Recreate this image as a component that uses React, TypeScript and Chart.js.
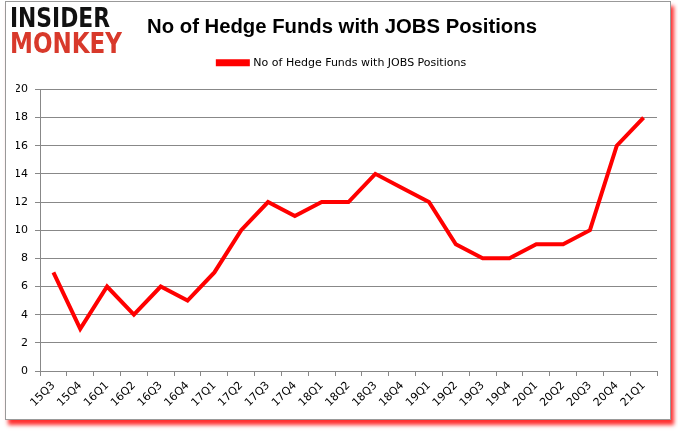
import React, { useEffect, useRef } from "react";
import { Chart, registerables } from "chart.js";
Chart.register(...registerables);

const categories = ["15Q3","15Q4","16Q1","16Q2","16Q3","16Q4","17Q1","17Q2","17Q3","17Q4","18Q1","18Q2","18Q3","18Q4","19Q1","19Q2","19Q3","19Q4","20Q1","20Q2","20Q3","20Q4","21Q1"];
const hedgeFunds = [7,3,6,4,6,5,7,10,12,11,12,12,14,13,12,9,8,8,9,9,10,16,18];
const seriesLabel = "No of Hedge Funds with JOBS Positions";
const titleText = "No of Hedge Funds with JOBS Positions";

export default function App() {
  const ref = useRef<HTMLCanvasElement>(null);
  useEffect(() => {
    document.body.style.margin = "0";
    const chart = new Chart(ref.current!, {
      type: "line",
      data: {
        labels: categories,
        datasets: [{
          label: seriesLabel,
          data: hedgeFunds,
          borderColor: "#ff0000",
          backgroundColor: "#ff0000",
          borderWidth: 4,
          pointRadius: 0,
          tension: 0,
          xAxisID: "x",
          yAxisID: "y",
        }],
      },
      options: {
        animation: false,
        responsive: false,
        layout: { padding: { left: 16, right: 10, top: 0, bottom: 10 } },
        plugins: {
          title: {
            display: true,
            text: titleText,
            color: "#000",
            font: { family: "Liberation Sans", size: 20.3, weight: "bold" },
            padding: { top: 15, bottom: 8 },
          },
          legend: {
            display: true,
            labels: {
              boxWidth: 30,
              boxHeight: 3,
              color: "#000",
              font: { family: "DejaVu Sans", size: 11 },
              padding: 10,
            },
          },
          tooltip: { enabled: false },
        },
        scales: {
          x: {
            offset: true,
            grid: { offset: true, drawOnChartArea: false, drawTicks: true, tickLength: 5, color: "#888" },
            border: { color: "#888" },
            ticks: { minRotation: 45, maxRotation: 45, color: "#000", font: { family: "DejaVu Sans", size: 11 }, autoSkip: false },
            afterFit: (s: any) => { s.height = 50; },
          },
          xTop: {
            type: "linear",
            position: "top",
            display: true,
            grid: { display: false },
            border: { display: false },
            ticks: { display: false },
            afterFit: (s: any) => { s.height = 11; },
          },
          y: {
            min: 0,
            max: 20,
            ticks: { stepSize: 2, color: "#000", font: { family: "DejaVu Sans", size: 11 }, padding: 7 },
            grid: { color: "#888", tickLength: 5 },
            border: { color: "#888" },
            afterFit: (s: any) => { s.width = 24; },
          },
          yRight: {
            type: "linear",
            position: "right",
            display: true,
            grid: { display: false },
            border: { display: false },
            ticks: { display: false },
            afterFit: (s: any) => { s.width = 11; },
          },
        },
      },
    });
    return () => chart.destroy();
  }, []);
  return (
    <div style={{ position: "relative", width: 678, height: 431, background: "#fff" }}>
      <div style={{ position: "absolute", left: 5, top: 1, width: 664, height: 417, border: "1px solid #999", boxShadow: "3px 5px 4px #ff3030", background: "#fff" }} />
      <canvas ref={ref} width={678} height={431} style={{ position: "absolute", left: 0, top: 0 }} />
      <svg width={140} height={60} style={{ position: "absolute", left: 0, top: 0 }}>
        <text x={10} y={27} textLength={100} lengthAdjust="spacingAndGlyphs" fill="#111" style={{ fontFamily: "DejaVu Sans", fontWeight: 900, fontSize: 26 }}>INSIDER</text>
        <text x={10} y={53} textLength={112} lengthAdjust="spacingAndGlyphs" fill="#d8392b" style={{ fontFamily: "DejaVu Sans", fontWeight: 900, fontSize: 28 }}>MONKEY</text>
      </svg>
    </div>
  );
}
